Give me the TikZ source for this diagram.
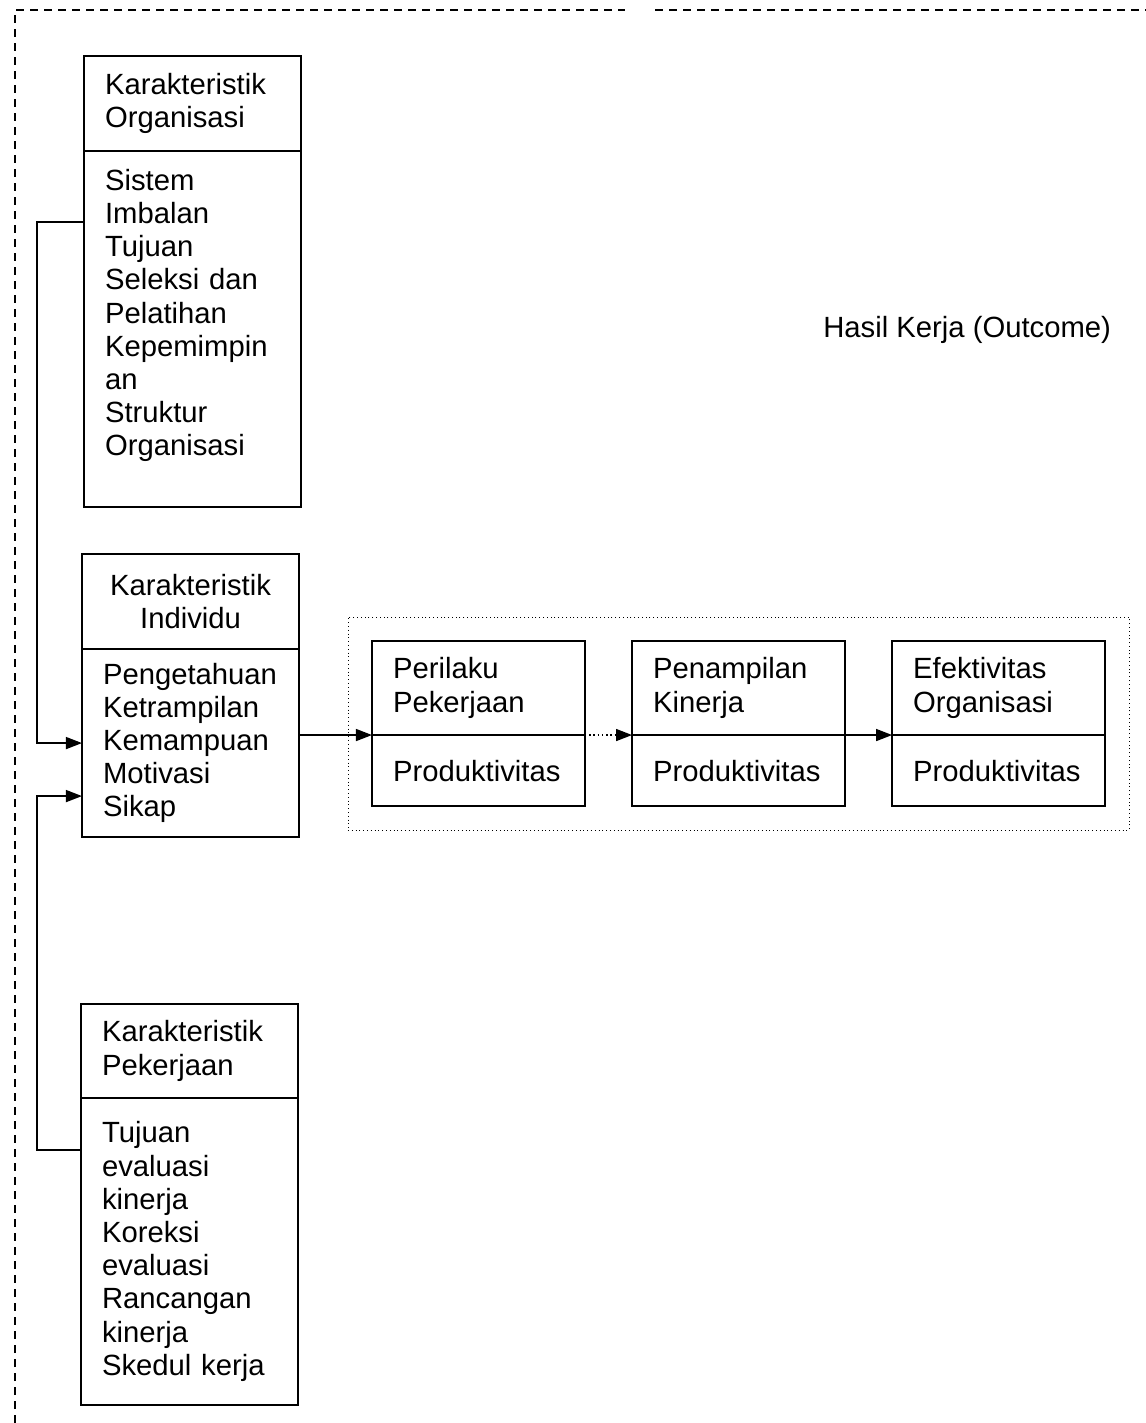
\documentclass[tikz,border=0pt]{standalone}
\usepackage{fontspec}
\setmainfont{Liberation Sans}
\usetikzlibrary{arrows.meta,positioning,fit}

\begin{document}
\begin{tikzpicture}[
  x=0.025cm, y=-0.025cm,
  font=\fontsize{20.8pt}{23.6pt}\selectfont,
  cell/.style={draw, line width=1.3pt, outer sep=0pt, inner xsep=0.525cm,
    inner ysep=0pt, align=left, text width=4.375cm},
  narrow/.style={cell, text width=4.275cm},
  feed/.style={-{Triangle[length=4mm, width=3mm]}, line width=1pt},
  outframe/.style={draw, dotted, line width=0.7pt, inner sep=0.6cm},
  edgeline/.style={dash pattern=on 0.2cm off 0.15cm, line width=0.9pt}
]
  \useasboundingbox (0,0) rectangle (1146,1423);

  % left column
  \node[cell, minimum height=2.375cm, anchor=north west] (orgHead) at (84,56) {Karakteristik\\Organisasi};
  \node[cell, minimum height=8.9cm, below=0pt of orgHead] (orgBody) {Sistem\\Imbalan\\Tujuan\\Seleksi dan\\Pelatihan\\Kepemimpin\\an\\Struktur\\Organisasi\\\mbox{}};

  \node[cell, align=center, minimum height=2.375cm, anchor=north west] (indHead) at (82,554) {Karakteristik\\Individu};
  \node[cell, minimum height=4.7cm, below=0pt of indHead] (indBody) {Pengetahuan\\Ketrampilan\\Kemampuan\\Motivasi\\Sikap};

  \node[cell, minimum height=2.35cm, anchor=north west] (pekHead) at (81,1004) {Karakteristik\\Pekerjaan};
  \node[cell, minimum height=7.675cm, below=0pt of pekHead] (pekBody) {Tujuan\\evaluasi\\kinerja\\Koreksi\\evaluasi\\Rancangan\\kinerja\\Skedul kerja};

  % outcome chain
  \node[narrow, minimum height=2.35cm, anchor=north west] (perHead) at (372,641) {Perilaku\\Pekerjaan};
  \node[narrow, minimum height=1.775cm, below=0pt of perHead] (perBody) {Produktivitas};
  \node[narrow, minimum height=2.35cm, right=1.175cm of perHead] (penHead) {Penampilan\\Kinerja};
  \node[narrow, minimum height=1.775cm, below=0pt of penHead] (penBody) {Produktivitas};
  \node[narrow, minimum height=2.35cm, right=1.175cm of penHead] (efeHead) {Efektivitas\\Organisasi};
  \node[narrow, minimum height=1.775cm, below=0pt of efeHead] (efeBody) {Produktivitas};

  \node[outframe, fit=(perHead)(efeBody)] (outcome) {};
  \node[anchor=west, inner sep=0pt] (hasil) at (823,330) {Hasil Kerja (Outcome)};

  \draw[feed] ([yshift=2.675cm]orgBody.west) -- ++(-47,0) |- (indBody.west);
  \draw[feed] ([yshift=2.54cm]pekBody.west) -- ++(-44,0) |- ([yshift=-1.325cm]indBody.west);
  \draw[feed] (indBody.east |- perHead.south) -- (perHead.south west);
  \draw[feed, dotted] (perHead.south east) -- (penHead.south west);
  \draw[feed] (penHead.south east) -- (efeHead.south west);

  % outer border
  \draw[edgeline] (15,1423) -- (15,10) -- (625,10);
  \draw[edgeline] (655,10) -- (1146,10);
\end{tikzpicture}
\end{document}
